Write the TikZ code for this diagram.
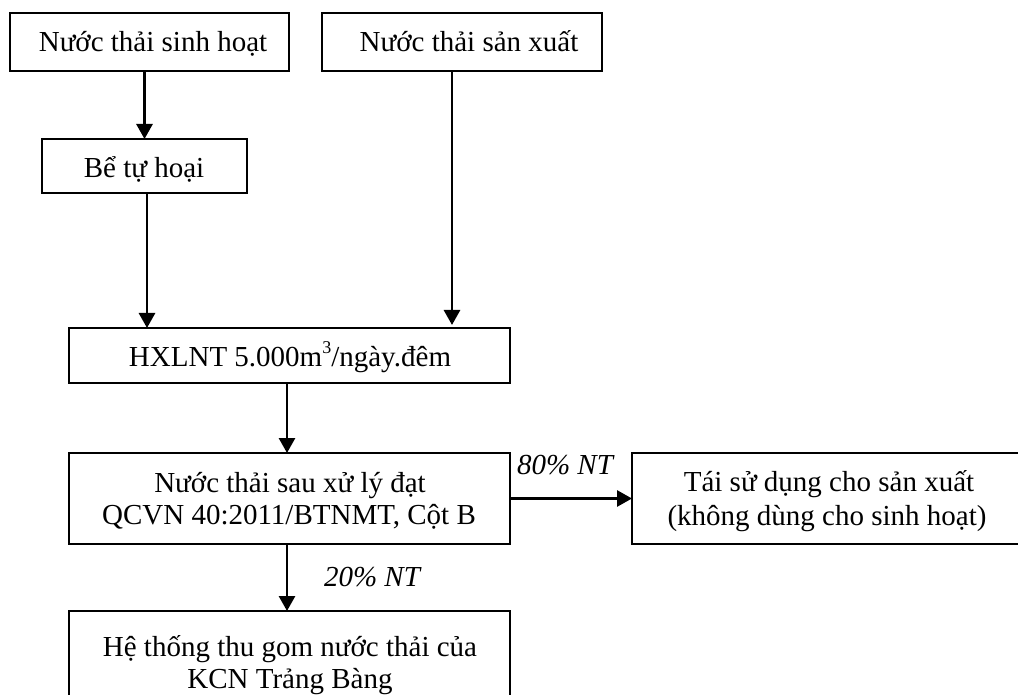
\documentclass[tikz,border=0pt]{standalone}
\usepackage{fontspec}
\setmainfont{Liberation Serif}
\usetikzlibrary{arrows.meta}
\newcommand{\smallsup}[1]{\raisebox{0.42em}{\fontsize{9}{9}\selectfont #1}}
\begin{document}
\begin{tikzpicture}[x=0.5pt,y=-0.5pt,
  box/.style={draw, line width=1pt, rectangle, inner sep=0pt, outer sep=0pt},
  txt/.style={anchor=base, inner sep=0pt, font=\fontsize{14.5}{17}\selectfont},
  lbl/.style={txt, font=\fontsize{14.5}{17}\selectfont\itshape},
  flow/.style={line width=1.4pt, -{Triangle[length=7.5pt,width=8pt]}}]
\useasboundingbox (0,0) rectangle (1018,695);
\clip (0,0) rectangle (1018,695);

% boxes
\node[box, minimum width=139.5pt, minimum height=29pt] (b1) at (149.5,42) {};
\node[box, minimum width=140pt, minimum height=29pt] (b2) at (462,42) {};
\node[box, minimum width=102.5pt, minimum height=27pt] (b3) at (144.5,166) {};
\node[box, minimum width=220.5pt, minimum height=27.5pt] (b4) at (289.5,355.5) {};
\node[box, minimum width=220.5pt, minimum height=45.5pt] (b5) at (289.5,498.5) {};
\node[box, minimum width=196pt, minimum height=45.5pt] (b6) at (828,498.5) {};
\node[box, minimum width=220.5pt, minimum height=57pt] (b7) at (289.5,668) {};

% texts
\node[txt] (t1) at (153,52) {Nước thải sinh hoạt};
\node[txt] (t2) at (469,52) {Nước thải sản xuất};
\node[txt] (t3) at (144,178) {Bể tự hoại};
\node[txt] (t4) at (290,366) {HXLNT 5.000m\smallsup{3}/ngày.đêm};
\node[txt] (t5a) at (290,492) {Nước thải sau xử lý đạt};
\node[txt] (t5b) at (289,524) {QCVN 40:2011/BTNMT, Cột B};
\node[txt] (t6a) at (829,491) {Tái sử dụng cho sản xuất};
\node[txt] (t6b) at (827,525) {(không dùng cho sinh hoạt)};
\node[txt] (t7a) at (290,656) {Hệ thống thu gom nước thải của};
\node[txt] (t7b) at (290,688) {KCN Trảng Bàng};
\node[lbl] (l80) at (565,474) {80\% NT};
\node[lbl] (l20) at (372,586) {20\% NT};

% connectors
\draw[flow] (b3.north |- b1.south) -- (b3.north);
\draw[flow] ([xshift=1.25pt]b3.south) -- ([xshift=1.25pt]b3.south |- b4.north);
\draw[flow] ([xshift=-5pt]b2.south) -- ([xshift=-5pt,yshift=1.5pt]b2.south |- b4.north);
\draw[flow] ([xshift=-1.25pt]b4.south) -- ([xshift=-1.25pt]b5.north);
\draw[flow] ([xshift=-1.25pt]b5.south) -- ([xshift=-1.25pt]b7.north);
\draw[flow] (b5.east) -- (b6.west);
\end{tikzpicture}
\end{document}
